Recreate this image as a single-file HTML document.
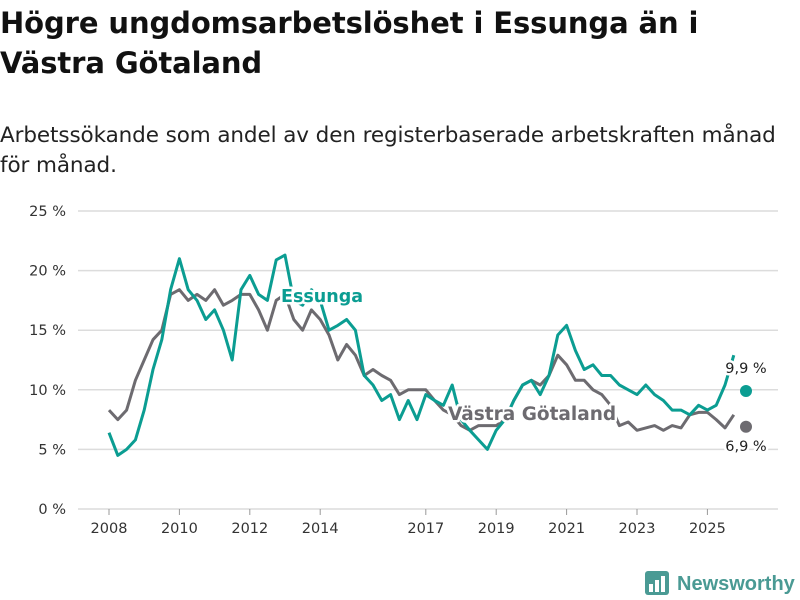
<!DOCTYPE html>
<html><head><meta charset="utf-8">
<style>
body{margin:0;background:#fff;font-family:"DejaVu Sans","Liberation Sans",sans-serif;}
#wrap{position:relative;width:800px;height:600px;overflow:hidden;}
h1{position:absolute;left:0;top:3px;margin:0;font-size:29px;line-height:40px;font-weight:bold;color:#111;letter-spacing:-0.1px;white-space:nowrap;}
.sub{position:absolute;left:0;top:121px;margin:0;font-size:21.5px;line-height:30px;color:#222;white-space:nowrap;letter-spacing:-0.1px;}
svg{position:absolute;left:0;top:0;font-family:"DejaVu Sans","Liberation Sans",sans-serif;}
</style></head><body>
<div id="wrap">
<h1>Högre ungdomsarbetslöshet i Essunga än i<br>Västra Götaland</h1>
<p class="sub">Arbetssökande som andel av den registerbaserade arbetskraften månad<br>för månad.</p>
<svg id="chart" width="800" height="600"></svg>
</div>
<script>
const yTicks=[0,5,10,15,20,25];
const yTickLabels=["0 %","5 %","10 %","15 %","20 %","25 %"];
const xTicks=[2008,2010,2012,2014,2017,2019,2021,2023,2025];
const startYear=2008;
const step=0.25;
const essunga=[6.4,4.5,5,5.8,8.3,11.7,14.2,18.4,21,18.4,17.5,15.9,16.7,15,12.5,18.4,19.6,18,17.5,20.9,21.3,17.5,17.1,18.4,17.5,15,15.4,15.9,15,11.2,10.4,9.1,9.6,7.5,9.1,7.5,9.6,9.1,8.7,10.4,7.5,6.6,5.8,5,6.6,7.5,9.1,10.4,10.8,9.6,11.2,14.6,15.4,13.3,11.7,12.1,11.2,11.2,10.4,10,9.6,10.4,9.6,9.1,8.3,8.3,7.9,8.7,8.3,8.7,10.4,12.9,9.9];
const vg=[8.3,7.5,8.3,10.8,12.5,14.2,15,18,18.4,17.5,18,17.5,18.4,17.1,17.5,18,18,16.7,15,17.5,18,15.9,15,16.7,15.9,14.6,12.5,13.8,12.9,11.2,11.7,11.2,10.8,9.6,10,10,10,9.1,8.3,7.9,7,6.6,7,7,7,7.5,9.1,10.4,10.8,10.4,11.2,12.9,12.1,10.8,10.8,10,9.6,8.7,7,7.3,6.6,6.8,7,6.6,7,6.8,7.9,8.1,8.1,7.5,6.8,7.9,6.9];
const NS="http://www.w3.org/2000/svg";
const svg=document.getElementById('chart');
const X=t=>109+(t-2008)*35.2;
const Y=v=>509-v*11.92;
function mk(tag,attrs,parent){const e=document.createElementNS(NS,tag);for(const k in attrs)e.setAttribute(k,attrs[k]);(parent||svg).appendChild(e);return e;}
yTicks.forEach((v,i)=>{
 const l=mk('line',{x1:78,x2:778,y1:Y(v),y2:Y(v),stroke:'#dcdcdc','stroke-width':1.5});
 
 
 const t=mk('text',{x:66,y:Y(v)+5,'text-anchor':'end','font-size':14.5,fill:'#333'});
 t.textContent=yTickLabels[i];
 
 
});
xTicks.forEach(yr=>{
 const tk=mk('line',{x1:X(yr),x2:X(yr),y1:509,y2:515,stroke:'#999','stroke-width':1});
 
 
 const t=mk('text',{x:X(yr),y:533,'text-anchor':'middle','font-size':14.5,fill:'#333'});
 t.textContent=yr;
 
 
});
function series(arr,color,name){
 const last=arr.length-1;
 let d='';
 for(let i=0;i<last;i++){d+=(i?'L':'M')+X(startYear+i*step).toFixed(1)+','+Y(arr[i]).toFixed(1);}
 const p=mk('path',{d:d,fill:'none',stroke:color,'stroke-width':3,'stroke-linejoin':'round'});
 
 
 const c=mk('circle',{cx:746,cy:Y(arr[last]),r:6,fill:color});
 
 
 return Y(arr[last]);
}
series(vg,'#6d6b70','vastra-gotaland');
series(essunga,'#0b9d92','essunga');
function label(x,y,txt,color,size,weight,name,anchor){
 const t=mk('text',{x:x,y:y,'font-size':size,'font-weight':weight,fill:color,stroke:'#fff','stroke-width':5,'paint-order':'stroke','stroke-linejoin':'round','text-anchor':anchor||'start'});
 t.textContent=txt;
 
 
}
label(281,302,'Essunga','#0b9d92',17.5,'bold','essunga-label');
label(448,420,'Västra Götaland','#6d6b70',18.5,'bold','vastra-gotaland-label');
label(746,373,essunga[essunga.length-1].toFixed(1).replace('.',',')+' %','#222',14.5,'normal','essunga-end-value','middle');
label(746,451,vg[vg.length-1].toFixed(1).replace('.',',')+' %','#222',14.5,'normal','vastra-gotaland-end-value','middle');
const g=mk('g',{});


mk('rect',{x:645,y:571,width:24,height:24,rx:3,fill:'#4a9a94'},g);
[[649,584,4],[655,580,4],[661,576,4]].forEach(b=>mk('rect',{x:b[0],y:b[1],width:b[2],height:594-b[1]-2,fill:'#fff'},g));
const lt=mk('text',{x:677,y:590,'font-size':20,'font-weight':'bold',fill:'#4a9a94','font-family':'Liberation Sans, sans-serif'},g);
lt.textContent='Newsworthy';
</script>
</body></html>
